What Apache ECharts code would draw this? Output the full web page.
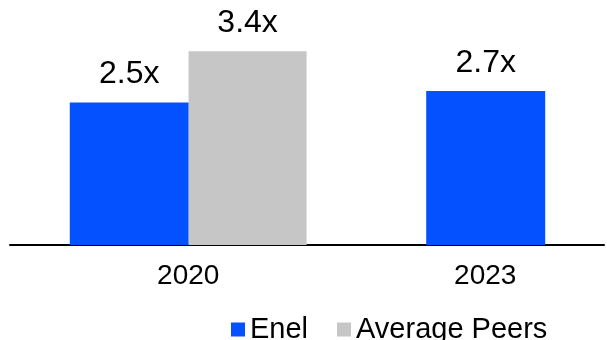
<!DOCTYPE html>
<html>
<head>
<meta charset="utf-8">
<script src="https://cdn.jsdelivr.net/npm/echarts@6/dist/echarts.min.js"></script>
<style>
  html, body { margin: 0; padding: 0; background: #fff; }
  #chart { width: 607px; height: 340px; }
</style>
</head>
<body>
<div id="chart"></div>
<script>
// 数据
const categories = ['2020', '2023']
const enel = [2.5, 2.7]
const peers = [3.4, null]
const seriesNames = ['Enel', 'Average Peers']
// group centres on the 0..5 slot axis (one slot per bar width)
const groupCenter = [1.5, 4]

const colors = ['#0452FF', '#C6C6C6']
const font = 'Liberation Sans, Arial, sans-serif'

const enelData = []
const peersData = []
categories.forEach((c, i) => {
  const hasPeer = peers[i] !== null && peers[i] !== undefined
  if (hasPeer) {
    enelData.push([groupCenter[i] - 0.5, enel[i]])
    peersData.push([groupCenter[i] + 0.5, peers[i]])
  } else {
    enelData.push([groupCenter[i], enel[i]])
  }
})

const labelCfg = {
  show: true,
  position: 'top',
  distance: 12,
  color: '#000',
  fontFamily: font,
  fontSize: 32,
  formatter: p => p.value[1].toFixed(1) + 'x'
}

const chart = echarts.init(document.getElementById('chart'))
chart.setOption({
  animation: false,
  grid: { left: 10, right: 0, top: 17, bottom: 95 },
  legend: {
    data: seriesNames,
    left: 226,
    top: 310,
    itemWidth: 14,
    itemHeight: 14,
    itemGap: 29,
    icon: 'rect',
    textStyle: { fontFamily: font, fontSize: 29, color: '#000' }
  },
  xAxis: {
    type: 'value',
    min: 0,
    max: 5,
    interval: 0.5,
    splitLine: { show: false },
    axisTick: { show: false },
    axisLine: { show: true, lineStyle: { color: '#000', width: 2 } },
    axisLabel: {
      margin: 17,
      color: '#000',
      fontFamily: font,
      fontSize: 28,
      showMinLabel: true,
      showMaxLabel: true,
      formatter: v => {
        const i = groupCenter.indexOf(v)
        return i >= 0 ? categories[i] : ''
      }
    }
  },
  yAxis: {
    type: 'value',
    min: 0,
    max: 4,
    show: false
  },
  series: [
    {
      name: seriesNames[0],
      type: 'bar',
      barWidth: 119,
      barGap: '-100%',
      itemStyle: { color: colors[0] },
      label: labelCfg,
      data: enelData
    },
    {
      name: seriesNames[1],
      type: 'bar',
      barWidth: 118,
      barGap: '-100%',
      itemStyle: { color: colors[1] },
      label: labelCfg,
      data: peersData
    }
  ]
})
window.addEventListener('resize', () => chart.resize())
</script>
</body>
</html>
